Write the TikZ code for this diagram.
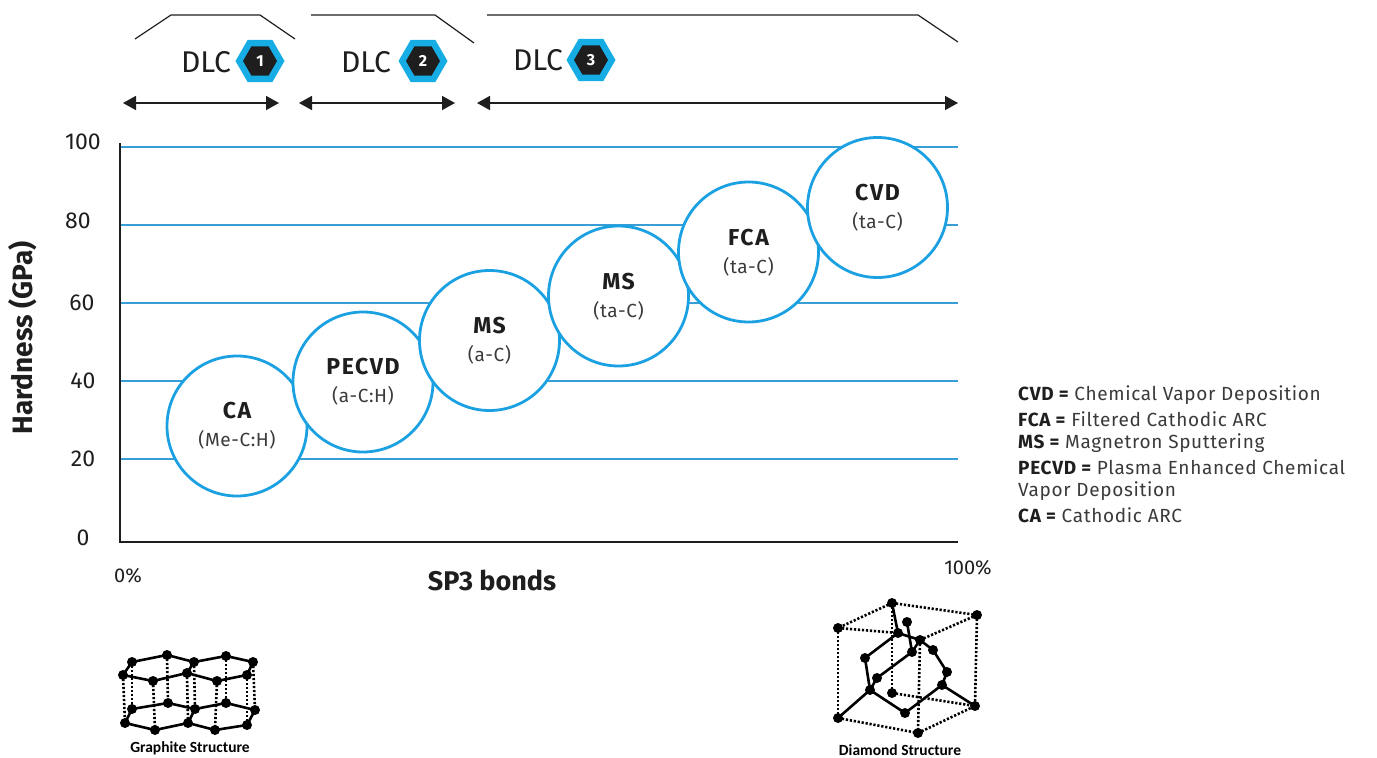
\documentclass[tikz,border=0pt]{standalone}
\usepackage{fontspec}
\setmainfont{Fira Sans}
\newfontfamily\capfont{Carlito}
\newfontfamily\legfont[LetterSpace=3.5]{Fira Sans}
\newfontfamily\bubfont[LetterSpace=7]{Fira Sans}
\newfontfamily\subfont[LetterSpace=3]{Fira Sans}
\usetikzlibrary{shapes.geometric,arrows.meta}
\definecolor{bub}{HTML}{1BA1E2}
\definecolor{gridc}{HTML}{3A9ED6}
\definecolor{hexc}{HTML}{16ADE4}
\definecolor{ink}{HTML}{1E1E1E}
\definecolor{soft}{HTML}{3A3A3A}
\begin{document}
\begin{tikzpicture}[x=1pt,y=-1pt,
  bubble/.style={circle,draw=bub,line width=2.8pt,fill=white,minimum size=140pt,inner sep=0pt},
  blab/.style={font=\bubfont\fontsize{23}{24}\selectfont\bfseries,text=ink,inner sep=0pt},
  bsub/.style={font=\subfont\fontsize{19}{22}\selectfont,text=soft,inner sep=0pt},
  ticklab/.style={font=\fontsize{23}{26}\selectfont,text=ink,inner sep=0pt},
  gridline/.style={draw=gridc,line width=1.3pt},
  axisline/.style={draw=ink,line width=2.8pt},
  bracket/.style={draw=ink,line width=1.2pt},
  spanarrow/.style={draw=ink,line width=1.6pt,{Triangle[length=13pt,width=14pt]}-{Triangle[length=13pt,width=14pt]}},
  hexout/.style={regular polygon,regular polygon sides=6,fill=hexc,minimum size=49pt,inner sep=0pt},
  hexin/.style={regular polygon,regular polygon sides=6,fill=ink,minimum size=34pt,inner sep=0pt,text=white,font=\fontsize{16}{16}\selectfont\bfseries},
  dlc/.style={font=\fontsize{30}{32}\selectfont,text=ink,inner sep=0pt},
  leg/.style={anchor=west,font=\legfont\fontsize{19}{20}\selectfont,text=soft,inner sep=0pt},
  atom/.style={circle,fill=black,inner sep=0pt,minimum size=10pt},
  bond/.style={draw=black,line width=2.6pt},
  hbond/.style={draw=black,line width=2.6pt,dash pattern=on 2.2pt off 1.8pt},
  capt/.style={font=\capfont\fontsize{15.5}{17}\selectfont\bfseries,inner sep=0pt}
]
\useasboundingbox (0,0) rectangle (1377,758);

% top brackets
\draw[bracket] (135,39) -- (171,15) -- (260,15) -- (295,39);
\draw[bracket] (311,15) -- (435,15) -- (474,43);
\draw[bracket] (487,15) -- (918,15) -- (958,42);

% DLC labels
\node[dlc] (d1) at (206,62) {DLC};
\node[hexout] (h1o) at (260,61) {};
\node[hexin] (h1) at (260,61) {1};
\node[dlc] (d2) at (366,62) {DLC};
\node[hexout] (h2o) at (423,61) {};
\node[hexin] (h2) at (423,61) {2};
\node[dlc] (d3) at (538,60) {DLC};
\node[hexout] (h3o) at (591,60) {};
\node[hexin] (h3) at (591,60) {3};

% span arrows
\coordinate (s1a) at (123,103); \coordinate (s1b) at (279,103);
\coordinate (s2a) at (299,103); \coordinate (s2b) at (455,103);
\coordinate (s3a) at (477,103); \coordinate (s3b) at (958,103);
\draw[spanarrow] (s1a) -- (s1b);
\draw[spanarrow] (s2a) -- (s2b);
\draw[spanarrow] (s3a) -- (s3b);

% grid
\foreach \yy in {147,225,303,381,459} \draw[gridline] (120,\yy) -- (958,\yy);
% axes
\draw[axisline] (120,143) -- (120,542) -- (958,542);

% tick labels
\node[ticklab] (t100) at (83,142) {100};
\node[ticklab] (t80) at (78,221) {80};
\node[ticklab] (t60) at (82,303) {60};
\node[ticklab] (t40) at (83,381) {40};
\node[ticklab] (t20) at (83,459) {20};
\node[ticklab] (t0) at (83,538) {0};
\node[font=\fontsize{20}{22}\selectfont,text=ink,inner sep=0pt] (p0) at (128,576) {0\%};
\node[font=\fontsize{20}{22}\selectfont,text=ink,inner sep=0pt] (p100) at (968,568) {100\%};
\node[font=\fontsize{27}{30}\selectfont\bfseries,text=ink,inner sep=0pt] (xlab) at (492,580) {SP3 bonds};
\node[font=\fontsize{28}{30}\selectfont\bfseries,text=ink,inner sep=0pt,rotate=90] (ylab) at (23,338) {Hardness (GPa)};

% bubbles
\node[bubble] (ca) at (237,426) {};
\node[blab] (cat) at (237,411) {CA};
\node[bsub] (cas) at (237,440) {(Me-C:H)};
\node[bubble] (pe) at (363,382) {};
\node[blab] (pet) at (363,367) {PECVD};
\node[bsub] (pes) at (363,396) {(a-C:H)};
\node[bubble] (ms1) at (489.5,340.5) {};
\node[blab] (ms1t) at (489.5,326) {MS};
\node[bsub] (ms1s) at (489.5,355) {(a-C)};
\node[bubble] (ms2) at (618.5,296) {};
\node[blab] (ms2t) at (618.5,282) {MS};
\node[bsub] (ms2s) at (618.5,311) {(ta-C)};
\node[bubble] (fca) at (748.5,252) {};
\node[blab] (fcat) at (748.5,238) {FCA};
\node[bsub] (fcas) at (748.5,267) {(ta-C)};
\node[bubble] (cvd) at (877.5,207.5) {};
\node[blab] (cvdt) at (877.5,193) {CVD};
\node[bsub] (cvds) at (877.5,222) {(ta-C)};

% legend
\node[leg] (l1) at (1018,395) {\textbf{\color{ink}CVD =} Chemical Vapor Deposition};
\node[leg] (l2) at (1018,419) {\textbf{\color{ink}FCA =} Filtered Cathodic ARC};
\node[leg] (l3) at (1018,443) {\textbf{\color{ink}MS =} Magnetron Sputtering};
\node[leg] (l4) at (1018,467) {\textbf{\color{ink}PECVD =} Plasma Enhanced Chemical};
\node[leg] (l5) at (1018,491) {Vapor Deposition};
\node[leg] (l6) at (1018,515) {\textbf{\color{ink}CA =} Cathodic ARC};

% graphite structure
\foreach \n/\x/\y in {tb1/132/662,tb2/167/655,tb3/194/662,tb4/226/656,tb5/253/662,
  tf1/123/675,tf2/153/681,tf3/187/673,tf4/217/681,tf5/247/675,
  bb1/132/709,bb2/168/703,bb3/195/709,bb4/226/703,bb5/255/710,
  bf1/125/723,bf2/155/730,bf3/188/723,bf4/215/730,bf5/247/725}
  \coordinate (\n) at (\x,\y);
\foreach \a/\b in {tb1/bb1,tb2/bb2,tb3/bb3,tb4/bb4,tb5/bb5,tf1/bf1,tf2/bf2,tf3/bf3,tf4/bf4,tf5/bf5}
  \draw[hbond] (\a) -- (\b);
\foreach \l in {t,b}{
  \draw[bond] (\l b1) -- (\l b2) -- (\l b3) -- (\l b4) -- (\l b5) -- (\l f5) -- (\l f4) -- (\l f3) -- (\l f2) -- (\l f1) -- cycle;
  \draw[bond] (\l b3) -- (\l f3);
}
\foreach \n in {tb1,tb2,tb3,tb4,tb5,tf1,tf2,tf3,tf4,tf5,bb1,bb2,bb3,bb4,bb5,bf1,bf2,bf3,bf4,bf5}
  \node[atom] at (\n) {};
\node[capt] (gcap) at (190,748) {Graphite Structure};

% diamond structure
\foreach \n/\x/\y in {A1/892/603,A2/977/615,A3/838/628,A4/907/622,A5/898/633,A6/920/640,
  A7/912/652,A8/933/650,A9/865/658,A10/947/672,A11/877/678,A12/942/685,A13/870/690,
  A14/892/693,A15/905/713,A16/975/706,A17/838/718,A18/918/733}
  \coordinate (\n) at (\x,\y);
\foreach \a/\b in {A1/A2,A1/A3,A3/A5,A2/A6,A3/A17,A2/A16,A1/A14,A6/A18,A17/A18,A18/A16,A14/A16}
  \draw[hbond] (\a) -- (\b);
\foreach \a/\b in {A1/A5,A4/A7,A5/A9,A9/A13,A13/A17,A13/A15,A15/A12,A12/A16,A12/A10,A10/A8,A8/A6,A6/A7,A7/A11,A11/A13,A5/A6}
  \draw[bond] (\a) -- (\b);
\foreach \n in {A1,A2,A3,A4,A5,A6,A7,A8,A9,A10,A11,A12,A13,A14,A15,A16,A17,A18}
  \node[atom] at (\n) {};
\node[capt] (dcap) at (900,750) {Diamond Structure};
\end{tikzpicture}
\end{document}
